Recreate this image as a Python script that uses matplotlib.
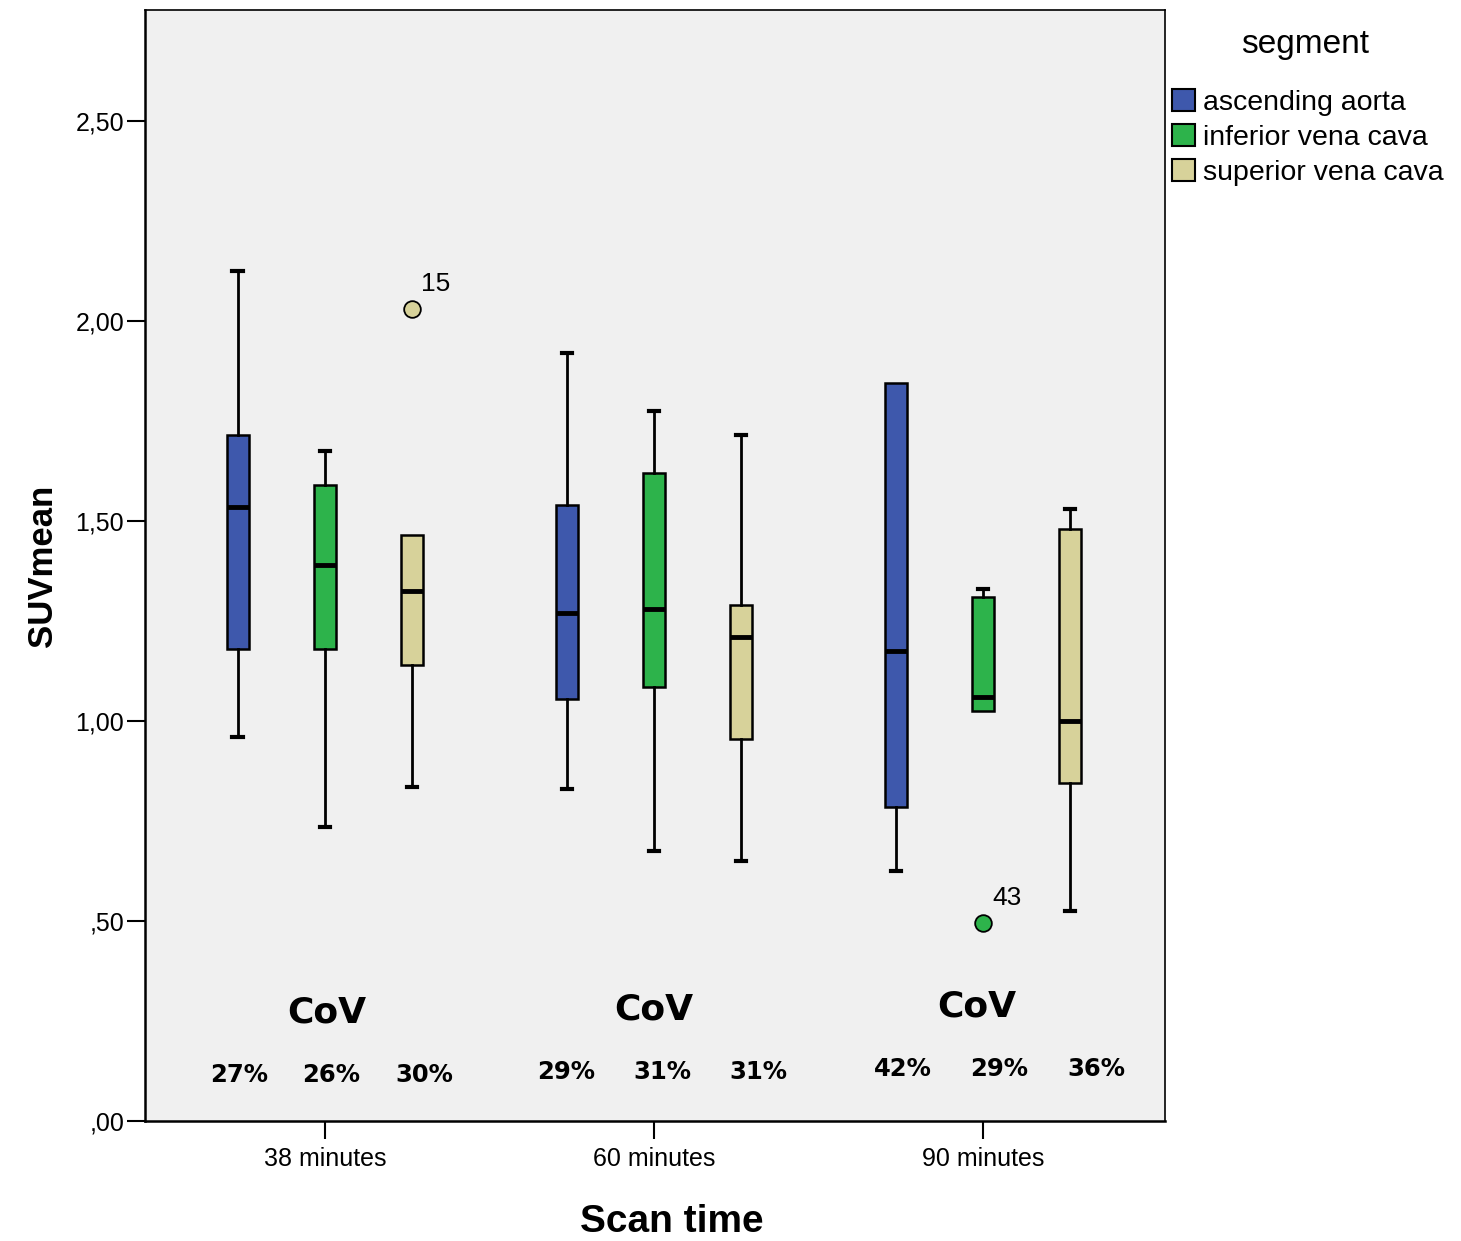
import matplotlib
matplotlib.use("Agg")
import matplotlib.pyplot as plt
from matplotlib.patches import Patch

# data
groups = ['38 minutes', '60 minutes', '90 minutes']
segments = ['ascending aorta', 'inferior vena cava', 'superior vena cava']
colors = ['#3E58AC', '#2DB34B', '#D7D29A']

# whislo, q1, median, q3, whishi per group, per segment
stats_vals = {
    'ascending aorta':    [(0.96, 1.18, 1.535, 1.715, 2.125),
                           (0.83, 1.055, 1.27, 1.54, 1.92),
                           (0.625, 0.785, 1.175, 1.845, 1.845)],
    'inferior vena cava': [(0.735, 1.18, 1.39, 1.59, 1.675),
                           (0.675, 1.085, 1.28, 1.62, 1.775),
                           (1.025, 1.025, 1.06, 1.31, 1.33)],
    'superior vena cava': [(0.835, 1.14, 1.325, 1.465, 1.465),
                           (0.65, 0.955, 1.21, 1.29, 1.715),
                           (0.525, 0.845, 1.0, 1.48, 1.53)],
}
# outliers: (segment, group index, value, case label)
outliers = [('superior vena cava', 0, 2.03, '15'),
            ('inferior vena cava', 2, 0.495, '43')]

cov = [['27%', '26%', '30%'],
       ['29%', '31%', '31%'],
       ['42%', '29%', '36%']]

yticks = [0, 0.5, 1.0, 1.5, 2.0, 2.5]
ytick_labels = [',00', ',50', '1,00', '1,50', '2,00', '2,50']

offsets = [-0.265, 0.0, 0.265]
box_w = 0.068
arial = ['Liberation Sans', 'DejaVu Sans']

# small hand placement of the CoV annotations per group
cov_shift = [0.006, 0.0, -0.018]
pct_shift = [0.02, 0.026, 0.05]
pct_step = [0.282, 0.292, 0.293]

fig = plt.figure(figsize=(14.61, 12.41), dpi=100)
ax = fig.add_axes([0.0992, 0.0967, 0.6982, 0.8953])
ax.set_facecolor('#F0F0F0')

for si, seg in enumerate(segments):
    for gi, vals in enumerate(stats_vals[seg]):
        lo, q1, med, q3, hi = vals
        fl = [o[2] for o in outliers if o[0] == seg and o[1] == gi]
        st = dict(whislo=lo, q1=q1, med=med, q3=q3, whishi=hi, fliers=fl)
        parts = ax.bxp([st], positions=[gi + offsets[si]], widths=box_w,
                       patch_artist=True, showfliers=True,
                       boxprops=dict(facecolor=colors[si], edgecolor='black', linewidth=1.8),
                       medianprops=dict(color='black', linewidth=3.5),
                       whiskerprops=dict(color='black', linewidth=2),
                       capprops=dict(color='black', linewidth=3),
                       capwidths=0.032,
                       flierprops=dict(marker='o', markerfacecolor=colors[si],
                                       markeredgecolor='black', markersize=12,
                                       markeredgewidth=1.3))
        # no cap where the whisker ends on the box
        if lo == q1:
            parts['caps'][0].set_visible(False)
        if hi == q3:
            parts['caps'][1].set_visible(False)

for seg, gi, v, lab in outliers:
    si = segments.index(seg)
    ax.text(gi + offsets[si] + 0.027, v + 0.033, lab, fontsize=19,
            family=arial, ha='left', va='bottom')

for gi in range(3):
    ax.text(gi + cov_shift[gi], 0.27 + 0.0075 * gi, 'CoV', fontsize=26,
            fontweight='bold', ha='center', va='center')
    for si in range(3):
        ax.text(gi + pct_shift[gi] + (si - 1) * pct_step[gi], 0.115 + 0.0075 * gi,
                cov[gi][si], fontsize=17.5, fontweight='bold',
                ha='center', va='center')

ax.set_xlim(-0.547, 2.553)
ax.set_ylim(0, 2.7775)
ax.set_xticks(range(3))
ax.set_xticklabels(groups, fontsize=18, family=arial)
ax.set_yticks(yticks)
ax.set_yticklabels(ytick_labels, fontsize=18, family=arial)
ax.tick_params(axis='both', direction='out', length=13, width=1.5, pad=2)
ax.tick_params(axis='x', pad=6)

for sp in ax.spines.values():
    sp.set_color('black')
    sp.set_linewidth(1.2)
ax.spines['left'].set_linewidth(1.8)
ax.spines['bottom'].set_linewidth(1.8)

ax.set_ylabel('SUVmean', fontsize=25, fontweight='bold', family=arial, labelpad=12)
ax.set_xlabel('Scan time', fontsize=28, fontweight='bold', family=arial)
ax.xaxis.set_label_coords(0.517, -0.0905)
ax.xaxis.label.set_va('center')

fig.text(1305 / 1461, 1 - 45 / 1241, 'segment', fontsize=24, family=arial,
         ha='center', va='center')
handles = [Patch(facecolor=c, edgecolor='black', linewidth=1.5) for c in colors]
leg = fig.legend(handles, segments, loc='upper left', bbox_to_anchor=(0.8022, 0.9285),
                 frameon=False, prop={'family': arial, 'size': 20.5},
                 handlelength=0.8, handleheight=0.82, handletextpad=0.28,
                 labelspacing=0.28, borderpad=0, borderaxespad=0)

fig.savefig('out.png', dpi=100)
